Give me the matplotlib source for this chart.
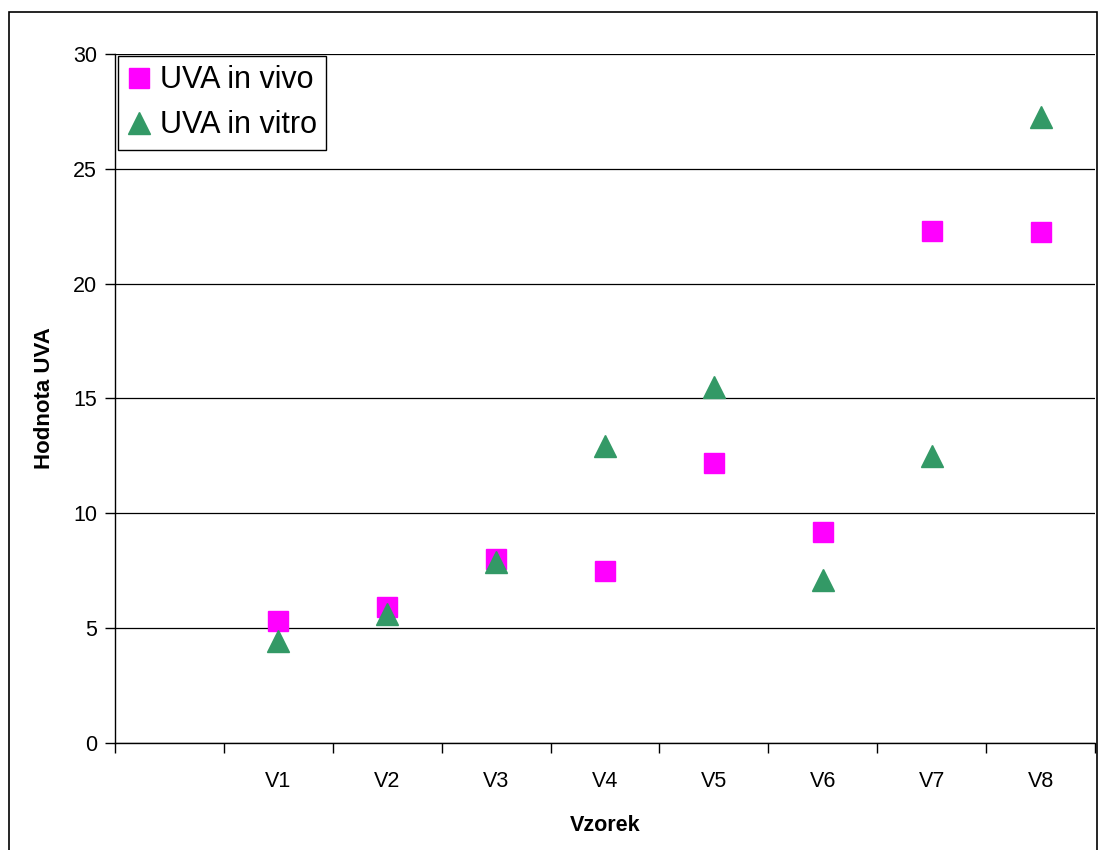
import matplotlib.pyplot as plt
from matplotlib.patches import Rectangle

plt.rcParams['font.family'] = ['Liberation Sans', 'DejaVu Sans']

# Hodnoty z grafu
kategorie = ['', 'V1', 'V2', 'V3', 'V4', 'V5', 'V6', 'V7', 'V8']
uva_in_vivo = [None, 5.3, 5.9, 8.0, 7.5, 12.2, 9.2, 22.3, 22.25]
uva_in_vitro = [None, 4.45, 5.6, 7.9, 12.95, 15.5, 7.1, 12.5, 27.25]

fig = plt.figure(figsize=(11, 8.5), dpi=100)
ax = fig.add_axes([0.1045, 0.1259, 0.891, 0.8106])

x = list(range(len(kategorie)))
xv = [i for i, v in zip(x, uva_in_vivo) if v is not None]
yv = [v for v in uva_in_vivo if v is not None]
xt = [i for i, v in zip(x, uva_in_vitro) if v is not None]
yt = [v for v in uva_in_vitro if v is not None]

ax.plot(xv, yv, 's', color='#FF00FF', markersize=14, label='UVA in vivo', zorder=3)
ax.plot(xt, yt, '^', color='#339966', markersize=16, label='UVA in vitro', zorder=3)

ax.set_xlim(-0.5, len(kategorie) - 0.5)
ax.set_ylim(0, 30)
ax.set_yticks(range(0, 31, 5))
ax.yaxis.grid(True, color='black', linewidth=0.9)
ax.set_axisbelow(True)

ax.set_xticks(x)
ax.set_xticklabels(kategorie, fontsize=15.5)
ax.set_xticks([i + 0.5 for i in range(-1, len(kategorie))], minor=True)
ax.tick_params(axis='x', which='major', length=0, pad=20)
ax.tick_params(axis='x', which='minor', length=7, width=1, direction='out')
ax.tick_params(axis='y', length=7, width=1, labelsize=15.5, pad=6)

for s in ['top', 'right']:
    ax.spines[s].set_visible(False)
ax.spines['left'].set_linewidth(1)
ax.spines['bottom'].set_linewidth(1)

ax.set_xlabel('Vzorek', fontsize=15.5, fontweight='bold', labelpad=17)
ax.set_ylabel('Hodnota UVA', fontsize=16, fontweight='bold', labelpad=13)

leg = ax.legend(loc='upper left', bbox_to_anchor=(0.0035, 0.997), fontsize=22,
                frameon=True, fancybox=False, edgecolor='black', framealpha=1,
                borderpad=0.3, handlelength=0.75, handletextpad=0.3,
                labelspacing=0.5, borderaxespad=0)
leg.get_frame().set_linewidth(1)

# ramecek grafu
fig.patches.append(Rectangle((9 / 1100, -0.1), 1088 / 1100, 1.1 - 12 / 850,
                             transform=fig.transFigure, fill=False,
                             edgecolor='black', linewidth=1.2))

fig.savefig('out.png', dpi=100)
